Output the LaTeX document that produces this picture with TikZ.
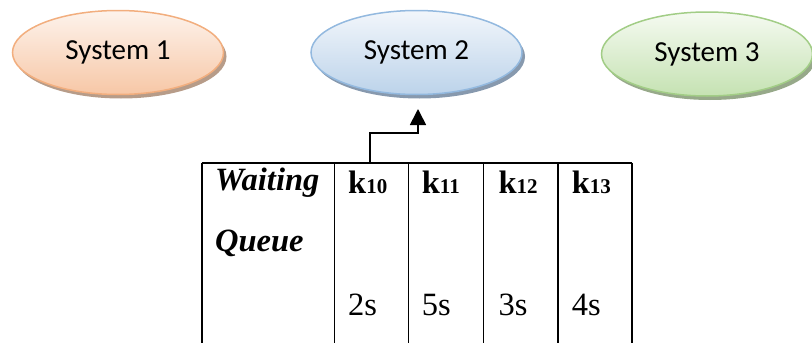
\documentclass[tikz,border=0pt]{standalone}
\usepackage{fontspec}
\setmainfont{Liberation Serif}
\newfontfamily\calib{Carlito}
\usetikzlibrary{shapes.geometric,arrows.meta,shadows}
\definecolor{orB}{HTML}{F2AE7E}
\definecolor{orT}{HTML}{FDF3EC}
\definecolor{orL}{HTML}{F7C7A6}
\definecolor{orS}{HTML}{B79C89}
\definecolor{blB}{HTML}{93B9DF}
\definecolor{blT}{HTML}{F2F6FB}
\definecolor{blL}{HTML}{BCD3EA}
\definecolor{blS}{HTML}{8799AE}
\definecolor{grB}{HTML}{A2CD86}
\definecolor{grT}{HTML}{F5FAF1}
\definecolor{grL}{HTML}{C5E2B2}
\definecolor{grS}{HTML}{97A98A}
\tikzset{
  sysnode/.style n args={4}{ellipse, draw=#1, line width=1.5pt, top color=#2, bottom color=#3,
    minimum width=211pt, minimum height=84pt, inner sep=0pt,
    general shadow={shadow xshift=3pt, shadow yshift=-4pt, fill=#4},
    font=\calib\fontsize{29}{31}\selectfont},
  grid/.style={line width=1.8pt, black},
  cell/.style={anchor=base west, inner sep=0pt, font=\fontsize{32.5}{35}\selectfont},
  flow/.style={line width=1.7pt, -{Triangle[width=16pt,length=16pt]}}
}
\begin{document}
\begin{tikzpicture}[x=1pt,y=-1pt]
\useasboundingbox (0,0) rectangle (812,343);
\node[sysnode={orB}{orT}{orL}{orS}] (s1) at (118,52.5) {System 1};
\node[sysnode={blB}{blT}{blL}{blS}] (s2) at (416.5,52.5) {System 2};
\node[sysnode={grB}{grT}{grL}{grS}] (s3) at (707,54) {System 3};
% table grid
\coordinate (tl) at (201.7,162.7);
\coordinate (tr) at (631.7,162.7);
\draw[grid] (tl) -- (tr);
\foreach \x in {201.7,334.5,408.5,483.5,558,631.7}
  \draw[grid] (\x,162.7) -- (\x,343);
% texts
\node[cell] (w) at (215,190) {\textbf{\textit{Waiting}}};
\node[cell] (q) at (215,251) {\textbf{\textit{Queue}}};
\node[cell] (k10) at (348,193) {\textbf{k{\fontsize{21}{23}\selectfont 10}}};
\node[cell] (k11) at (421.7,193) {\textbf{k{\fontsize{21}{23}\selectfont 11}}};
\node[cell] (k12) at (498.3,193) {\textbf{k{\fontsize{21}{23}\selectfont 12}}};
\node[cell] (k13) at (571.7,193) {\textbf{k{\fontsize{21}{23}\selectfont 13}}};
\node[cell] (t1) at (348,315) {2s};
\node[cell] (t2) at (421.7,315) {5s};
\node[cell] (t3) at (498.3,315) {3s};
\node[cell] (t4) at (571.7,315) {4s};
% arrow
\coordinate (qs) at (370,161.5);
\coordinate (tip) at (418,109);
\draw[flow] (qs) -- (370,133.3) -| (tip);
\end{tikzpicture}
\end{document}
